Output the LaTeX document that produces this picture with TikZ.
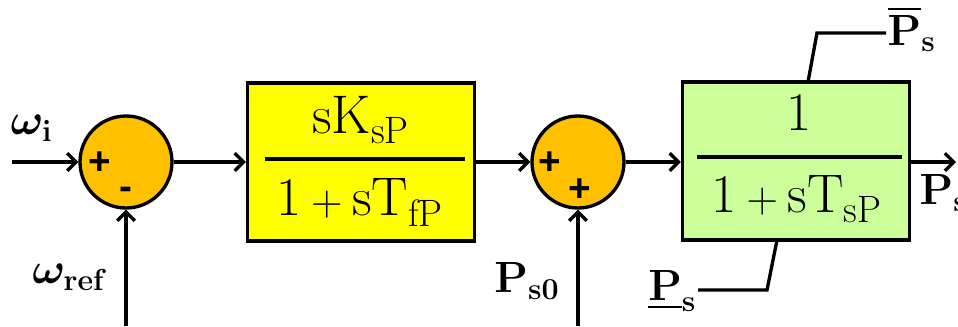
\documentclass[tikz,border=0pt]{standalone}
\usepackage{fontspec}
\usepackage{amsmath}
\usetikzlibrary{arrows.meta}
\newfontfamily\signfont{Liberation Sans}
\definecolor{sumorange}{RGB}{255,192,0}
\definecolor{hpyellow}{RGB}{255,255,0}
\definecolor{lpgreen}{RGB}{204,255,153}

\begin{document}
\begin{tikzpicture}[x=0.02cm, y=-0.02cm, line width=1.9pt,
    sumnode/.style={circle, draw, fill=sumorange, minimum size=1.84cm, inner sep=0pt},
    tfbox/.style={draw, minimum width=4.54cm, minimum height=3.16cm, inner sep=0pt},
    sign/.style={font=\signfont\bfseries\fontsize{22}{24}\selectfont, inner sep=0pt},
    lbl/.style={font=\fontsize{24}{28}\selectfont\boldmath, inner sep=0pt},
    fracpart/.style={font=\fontsize{31}{36}\selectfont, inner sep=0pt, anchor=base},
    sig/.style={-{Straight Barb[length=5pt,width=10pt]}}]
    \useasboundingbox (0,0) rectangle (958,326);

    % summing points and blocks
    \node[sumnode] (sum1) at (126,162) {};
    \node[sign] (sum1p) at (100,163) {+};
    \node[sign] (sum1m) at (126,193) {-};
    \node[tfbox, fill=hpyellow] (hpf) at (361,162) {};
    \node[sumnode] (sum2) at (578,162) {};
    \node[sign] (sum2p) at (550,163) {+};
    \node[sign] (sum2q) at (580,190) {+};
    \node[tfbox, fill=lpgreen] (lpf) at (796,161) {};

    % transfer functions
    \node[fracpart] (hpnum) at (361,133) {$\mathrm{sK_{sP}}$};
    \node[fracpart] (hpden) at (360,215) {$\mathrm{1+sT_{fP}}$};
    \draw (265,159) -- (465,159);
    \node[fracpart] (lpnum) at (799,130) {$\mathrm{1}$};
    \node[fracpart] (lpden) at (797,212) {$\mathrm{1+sT_{sP}}$};
    \draw (697,157) -- (902,157);

    % labels
    \node[lbl, anchor=west] (wi) at (9,128) {$\omega_{\mathbf{i}}$};
    \node[lbl] (wref) at (70,277) {$\omega_{\mathbf{ref}}$};
    \node[lbl] (ps0) at (527,281) {$\mathbf{P}_{\mathbf{s0}}$};
    \node[lbl, anchor=west] (ps) at (918,193) {$\mathbf{P}_{\mathbf{s}}$};
    \node[lbl, anchor=west] (pmax) at (886,29) {$\overline{\mathbf{P}}_{\mathbf{s}}$};
    \node[lbl, anchor=east] (pmin) at (698,291) {$\underline{\mathbf{P}}_{\mathbf{s}}$};

    % signals
    \coordinate (win) at (12,162);
    \coordinate (wrefin) at (126,326);
    \coordinate (ps0in) at (578,326);
    \coordinate (pout) at (956,162);
    \draw[sig] (win) -- (sum1.west);
    \draw[sig] (wrefin) -- (sum1.south);
    \draw[sig] (sum1.east) -- (sum1.east -| hpf.west);
    \draw[sig] (hpf.east |- sum2) -- (sum2.west);
    \draw[sig] (ps0in) -- (sum2.south);
    \draw[sig] (sum2.east) -- (sum2.east -| lpf.west);
    \draw[sig] (lpf.east |- pout) -- (pout);

    % limits
    \coordinate (pmaxa) at (808,82);
    \coordinate (pmaxb) at (817,33);
    \coordinate (pmina) at (777,240);
    \coordinate (pminb) at (767,290);
    \draw (pmaxa) -- (pmaxb) -- (pmaxb -| pmax.west);
    \draw (pmina) -- (pminb) -- (pminb -| pmin.east);
\end{tikzpicture}
\end{document}
